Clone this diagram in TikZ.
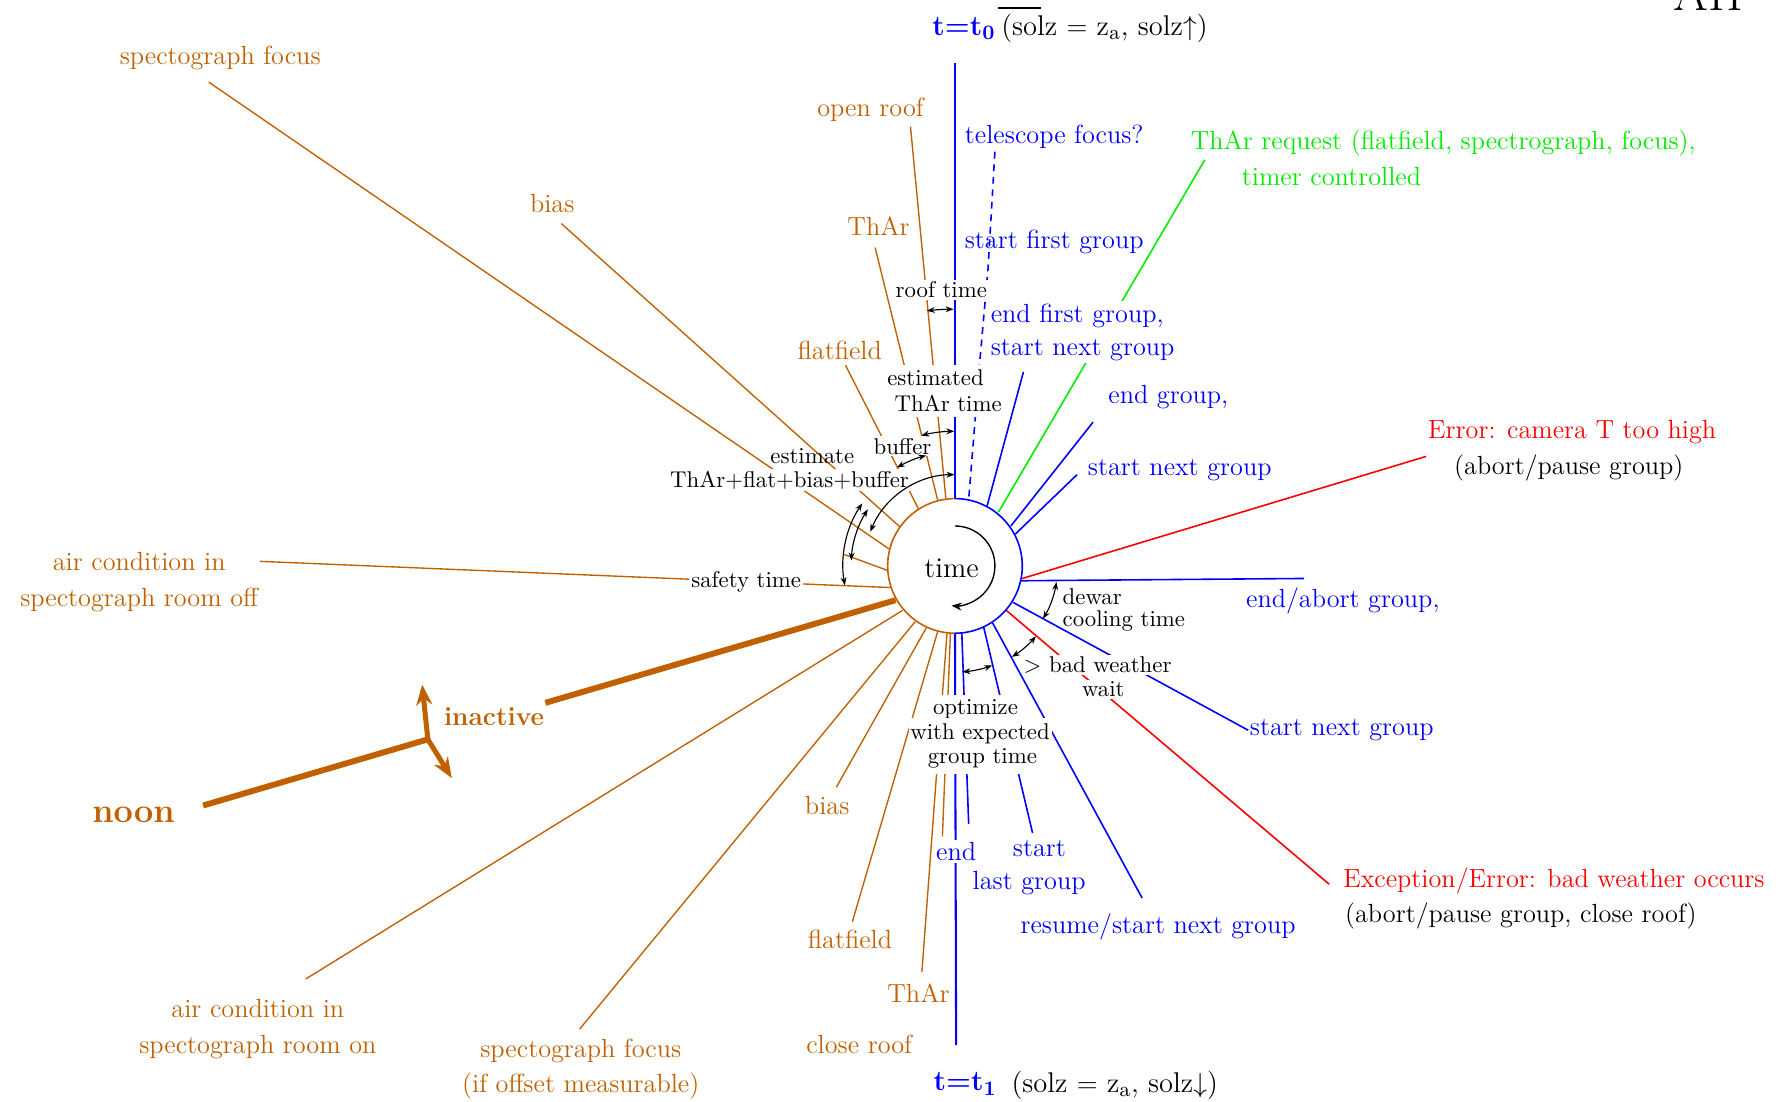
\documentclass[tikz,border=0pt]{standalone}
\usetikzlibrary{arrows.meta,calc}
\definecolor{ora}{RGB}{192,96,0}
\definecolor{blu}{RGB}{0,0,255}
\definecolor{grn}{RGB}{0,235,0}
\definecolor{rd}{RGB}{255,0,0}
\begin{document}
\begin{tikzpicture}[x=0.5pt,y=-0.5pt,
  oln/.style={line width=0.6pt,draw=ora},
  bln/.style={line width=0.7pt,draw=blu},
  tln/.style={line width=0.9pt,draw=blu},
  thk/.style={line width=2.6pt,draw=ora},
  lab/.style={font=\fontsize{11.5}{16}\selectfont, inner sep=1pt, align=center},
  olab/.style={lab,text=ora},
  blab/.style={lab,text=blu},
  ann/.style={font=\fontsize{10}{11.5}\selectfont, fill=white, inner sep=0.8pt, align=center},
  annw/.style={ann, inner ysep=2.2pt},
  arr/.style={line width=0.5pt,{Stealth[length=3.5pt,width=2.6pt]}-{Stealth[length=3.5pt,width=2.6pt]}},
]
\useasboundingbox (0,0) rectangle (1568,965);
\clip (0,0) rectangle (1568,965);

\coordinate (C) at (837,496);

% ---------- orange connectors ----------
\coordinate (o1a) at (183,72);  \coordinate (o1b) at (779,481);
\coordinate (o2a) at (492,196); \coordinate (o2b) at (789,462);
\coordinate (o3a) at (741,320); \coordinate (o3b) at (805,446);
\coordinate (o4a) at (767,217); \coordinate (o4b) at (822,439);
\coordinate (o5a) at (798,111); \coordinate (o5b) at (829,437);
\coordinate (o6a) at (228,492); \coordinate (o6b) at (781,515);
\coordinate (o7a) at (740,486); \coordinate (o7b) at (778,500);
\coordinate (o8a) at (478,616); \coordinate (o8b) at (785,526);
\coordinate (o9a) at (178,706); \coordinate (cross) at (375,648);
\coordinate (uptip) at (370,600); \coordinate (dntip) at (396,682);
\coordinate (o10a) at (268,858); \coordinate (o10b) at (791,535);
\coordinate (o11a) at (508,902); \coordinate (o11b) at (802,545);
\coordinate (o12a) at (733,690); \coordinate (o12b) at (812,550);
\coordinate (o13a) at (747,808); \coordinate (o13b) at (822,553);
\coordinate (o14a) at (808,852); \coordinate (o14b) at (830,555);
\coordinate (o15a) at (826,733); \coordinate (o15b) at (833,555);

\draw[oln] (o1a) -- (o1b);
\draw[oln] (o2a) -- (o2b);
\draw[oln] (o3a) -- (o3b);
\draw[oln] (o4a) -- (o4b);
\draw[oln] (o5a) -- (o5b);
\draw[oln] (o6a) -- (o6b);
\draw[oln] (o7a) -- (o7b);
\draw[thk] (o8a) -- (o8b);
\draw[thk] (o9a) -- (cross);
\draw[oln] (o10a) -- (o10b);
\draw[oln] (o11a) -- (o11b);
\draw[oln] (o12a) -- (o12b);
\draw[oln] (o13a) -- (o13b);
\draw[oln] (o14a) -- (o14b);
\draw[oln] (o15a) -- (o15b);
\draw[line width=2.2pt,draw=ora,-{Stealth[length=9pt,width=7pt]}] (cross) -- (uptip);
\draw[line width=2.2pt,draw=ora,-{Stealth[length=9pt,width=7pt]}] (cross) -- (dntip);

% ---------- blue, green, red connectors ----------
\coordinate (b1a) at (837,55);   \coordinate (b1b) at (837,437);
\coordinate (b2a) at (872,133);  \coordinate (b2m1) at (866,235);
\coordinate (b2m2) at (859,314); \coordinate (b2b) at (849,438);
\coordinate (b3a) at (897,326);  \coordinate (b3b) at (865,444);
\coordinate (b4a) at (958,370);  \coordinate (b4b) at (886,461);
\coordinate (b5a) at (944,416);  \coordinate (b5b) at (890,468);
\coordinate (b6a) at (1143,507); \coordinate (b6b) at (895,509);
\coordinate (b7a) at (1094,640); \coordinate (b7b) at (888,528);
\coordinate (b8a) at (1001,787); \coordinate (b8b) at (870,546);
\coordinate (b9a) at (905,730);  \coordinate (b9b) at (862,549);
\coordinate (b10a) at (838,916); \coordinate (b10b) at (837,555);
\coordinate (b11a) at (849,722); \coordinate (b11b) at (843,555);
\coordinate (g1a) at (1056,140); \coordinate (g1b) at (875,449);
\coordinate (r1a) at (1250,400); \coordinate (r1b) at (896,507);
\coordinate (r2a) at (1165,775); \coordinate (r2b) at (882,535);

\draw[tln] (b1a) -- (b1b);
\draw[bln,dash pattern=on 3pt off 2.5pt] (b2a) -- (b2m1) -- (b2m2) -- (b2b);
\draw[bln] (b3a) -- (b3b);
\draw[bln] (b4a) -- (b4b);
\draw[bln] (b5a) -- (b5b);
\draw[bln] (b6a) -- (b6b);
\draw[bln] (b7a) -- (b7b);
\draw[bln] (b8a) -- (b8b);
\draw[bln] (b9a) -- (b9b);
\draw[tln] (b10a) -- (b10b);
\draw[bln] (b11a) -- (b11b);
\draw[line width=0.7pt,draw=grn] (g1a) -- (g1b);
\draw[line width=0.7pt,draw=rd] (r1a) -- (r1b);
\draw[line width=0.7pt,draw=rd] (r2a) -- (r2b);

% ---------- clock circle ----------
\draw[oln,line width=0.7pt] ($(C)+(0,-59)$) arc[start angle=-90, end angle=-270, radius=59];
\draw[bln] ($(C)+(0,-59)$) arc[start angle=-90, end angle=90, radius=59];

% ---------- orange labels ----------
\node[olab] (sf1) at (193,51) {spectograph focus};
\node[olab] (openroof) at (763,96) {open roof};
\node[olab] (bias1) at (484,178) {bias};
\node[olab] (thar1) at (770,198) {ThAr};
\node[olab] (flat1) at (736,307) {flatfield};
\node[olab] (acoff) at (122,510) {air condition in\\spectograph room off};
\node[olab,font=\fontsize{11.5}{13}\selectfont\bfseries] (inactive) at (433,628) {inactive};
\node[olab,font=\fontsize{15}{17}\selectfont\bfseries] (noon) at (117,714) {noon};
\node[olab] (bias2) at (725,706) {bias};
\node[olab] (flat2) at (745,823) {flatfield};
\node[olab] (thar2) at (805,870) {ThAr};
\node[olab] (closeroof) at (753,915) {close roof};
\node[olab] (acon) at (226,902) {air condition in\\spectograph room on};
\node[olab,font=\fontsize{11.5}{15}\selectfont] (sf2) at (509,937) {spectograph focus\\(if offset measurable)};

% ---------- blue labels ----------
\node[blab,font=\fontsize{12.5}{14}\selectfont\bfseries] (t0) at (845,25) {t=t$_{\mathbf{0}}$};
\node[lab,font=\fontsize{12.5}{14}\selectfont] (solz0) at (968,25) {(solz $=$ z$_{\mathrm{a}}$, solz$\uparrow$)};
\coordinate (ov1) at (875,7); \coordinate (ov2) at (912,7);
\draw[line width=0.5pt] (ov1) -- (ov2);
\node[blab] (tfocus) at (924,120) {telescope focus?};
\node[blab] (sfg) at (924,212) {start first group};
\node[blab,font=\fontsize{11.5}{14.5}\selectfont,fill=white,align=left,anchor=west] (efg) at (866,291) {end first group,\\start next group};
\node[blab] (endgrp) at (1024,348) {end group,};
\node[blab] (sng1) at (1034,412) {start next group};
\node[blab] (eag) at (1177,527) {end/abort group,};
\node[blab] (sng2) at (1176,640) {start next group};
\node[blab] (resume) at (1015,812) {resume/start next group};
\node[blab,fill=white] (endl) at (838,746) {end};
\node[blab] (startl) at (911,744) {start};
\node[blab] (lastg) at (902,774) {last group};
\node[blab,font=\fontsize{12.5}{14}\selectfont\bfseries] (t1) at (846,950) {t=t$_{\mathbf{1}}$};
\node[lab,font=\fontsize{12.5}{14}\selectfont] (solz1) at (977,951) {(solz $=$ z$_{\mathrm{a}}$, solz$\downarrow$)};

% ---------- green / red / black labels ----------
\node[lab,text=grn] (tharreq) at (1265,125) {ThAr request (flatfield, spectrograph, focus),};
\node[lab,text=grn] (timer) at (1167,155) {timer controlled};
\node[lab,text=rd] (err1) at (1378,379) {Error: camera T too high};
\node[lab] (err1b) at (1375,410) {(abort/pause group)};
\node[lab,text=rd] (err2) at (1362,772) {Exception/Error: bad weather occurs};
\node[lab] (err2b) at (1333,803) {(abort/pause group, close roof)};
\node[font=\fontsize{22}{24}\selectfont,anchor=base] (ah) at (1497,9) {AH};

% ---------- annotations ----------
\node[ann] (rooftime) at (825,254) {roof time};
\node[annw] (estd) at (820,331) {estimated};
\node[annw] (thartime) at (831,354) {ThAr time};
\node[ann] (buffer) at (791,391) {buffer};
\node[ann,fill=none] (estimate) at (712,400) {estimate};
\node[ann] (sum) at (692,421) {ThAr+flat+bias+buffer};
\node[ann] (safety) at (654,510) {safety time};
\node[font=\fontsize{12.5}{14}\selectfont,inner sep=1pt] (timec) at (834,498) {time};
\node[ann,fill=none,inner sep=0pt,anchor=west] (dewar) at (931,523) {dewar};
\node[ann,fill=none,inner sep=0pt,anchor=west] (cool) at (931,544) {cooling time};
\node[ann] (badw) at (962,583) {$>$ bad weather};
\node[ann] (wait) at (967,604) {wait};
\node[annw] (opt1) at (855,622) {optimize};
\node[annw] (opt2) at (859,643) {with expected};
\node[annw] (opt3) at (861,665) {group time};

% ---------- interval arrows (arcs round the clock) ----------
\draw[arr] ($(C)+(-96.3:225)$) arc[start angle=-96.3, end angle=-90.3, radius=225];
\draw[arr] ($(C)+(-104.5:118)$) arc[start angle=-104.5, end angle=-90.3, radius=118];
\draw[arr] ($(C)+(-120.6:100)$) arc[start angle=-120.6, end angle=-104.6, radius=100];
\draw[arr] ($(C)+(-158:80)$) arc[start angle=-158, end angle=-90.3, radius=80];
\draw[arr] ($(C)+(-146:98)$) arc[start angle=-146, end angle=-190, radius=98];
\draw[arr] ($(C)+(-147:91)$) arc[start angle=-147, end angle=-177, radius=91];
\draw[arr] ($(C)+(9:90)$) arc[start angle=9, end angle=31, radius=90];
\draw[arr] ($(C)+(41:94)$) arc[start angle=41, end angle=58, radius=94];
\draw[arr] ($(C)+(86:93)$) arc[start angle=86, end angle=69.5, radius=93];
\draw[line width=0.6pt,-{Stealth[length=4.5pt,width=3.5pt]}] ($(C)+(-90:35)$) arc[start angle=-90, end angle=95, radius=35];
\end{tikzpicture}
\end{document}
